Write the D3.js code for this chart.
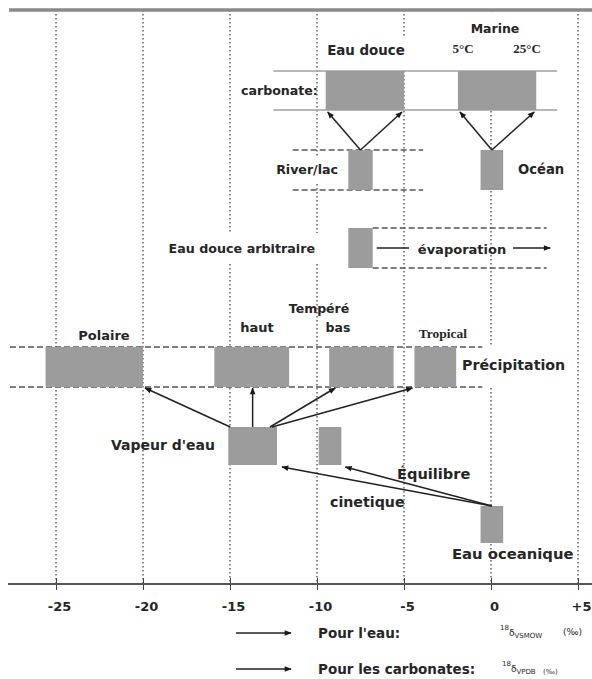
<html lang="fr">
<head>
<meta charset="utf-8">
<title>d18O eau et carbonates</title>
<style>
  body { margin: 0; background: white; }
  svg text { font-family: "DejaVu Sans", Arial, sans-serif; font-weight: bold; fill: #262626; }
  svg text.serif { font-family: "Liberation Serif", "Times New Roman", serif; }
  .box { fill: #9c9c9c; }
  .grid { stroke: #3a3a3a; stroke-width: 1.2; stroke-dasharray: 1.6,2.4; }
  .band { stroke: #555; stroke-width: 1.5; stroke-dasharray: 6,3; }
  .carb { stroke: #a0a0a0; stroke-width: 1.6; }
  .arrow { stroke: #222; stroke-width: 1.5; fill: none; }
</style>
</head>
<body>
<script src="https://cdnjs.cloudflare.com/ajax/libs/d3/7.8.5/d3.min.js"></script>
<script>
// axe d18O (permil)
var ticks = [-25, -20, -15, -10, -5, 0, 5];
var tickLabels = ["-25", "-20", "-15", "-10", "-5", "0", "+5"];

// carbonates (VPDB)
var carbonateNames = ["Eau douce", "Marine"];
var carbonateLo = [-9.5, -1.9];
var carbonateHi = [-5.0, 2.6];

// eaux sources (VSMOW)
var sourceNames = ["River/lac", "Océan"];
var sourceLo = [-8.2, -0.6];
var sourceHi = [-6.8, 0.7];

var arbitraire = [-8.2, -6.8];
var evaporationEnd = 3.4;

var precipNames = ["Polaire", "haut", "bas", "Tropical"];
var precipLo = [-25.6, -15.9, -9.3, -4.4];
var precipHi = [-20.0, -11.6, -5.6, -2.0];

var vapeur = [-15.1, -12.3];
var vapeurEquilibre = [-9.9, -8.6];
var eauOceanique = [-0.6, 0.7];

// mise en page (pixels)
var W = 592, H = 679;
var row = {
  top: 10, bottom: 584,
  carbTop: 71, carbBottom: 110,
  srcTop: 150, srcBottom: 190,
  arbTop: 228, arbBottom: 268,
  precTop: 347, precBottom: 387,
  vapTop: 427, vapBottom: 465,
  oceTop: 506, oceBottom: 543
};
var gridGaps = [
  {v: -15, y0: 233, y1: 264},
  {v: -10, y0: 233, y1: 264},
  {v: -10, y0: 156, y1: 184},
  {v: -5, y0: 36, y1: 71},
  {v: 0, y0: 14, y1: 71},
  {v: 0, y0: 347, y1: 388}
];

var x = d3.scaleLinear().domain([-25, 5]).range([56, 578]);
function mid(a, b) { return (a + b) / 2; }

var svg = d3.select("body").append("svg")
    .attr("width", W).attr("height", H);

var defs = svg.append("defs");
defs.append("marker").attr("id", "head")
    .attr("viewBox", "0 -5 10 10").attr("refX", 9).attr("refY", 0)
    .attr("markerUnits", "userSpaceOnUse")
    .attr("markerWidth", 8).attr("markerHeight", 7)
    .attr("orient", "auto")
  .append("path").attr("d", "M0,-4L10,0L0,4Z").attr("fill", "#1a1a1a");

// lignes verticales pointillees (avec trous derriere les textes)
ticks.forEach(function(v) {
  var gaps = gridGaps.filter(function(g) { return g.v === v; })
                     .sort(function(a, b) { return a.y0 - b.y0; });
  var y = row.top;
  gaps.forEach(function(g) {
    svg.append("line").attr("class", "grid")
       .attr("x1", x(v)).attr("x2", x(v)).attr("y1", y).attr("y2", g.y0);
    y = g.y1;
  });
  svg.append("line").attr("class", "grid")
     .attr("x1", x(v)).attr("x2", x(v)).attr("y1", y).attr("y2", row.bottom);
});

// bandes
function hline(cls, a, b, y) {
  svg.append("line").attr("class", cls)
     .attr("x1", a).attr("x2", b).attr("y1", y).attr("y2", y);
}
hline("carb", x(-12.5), x(3.8), row.carbTop);
hline("carb", x(-12.5), x(3.8), row.carbBottom);
hline("band", x(-11.4), x(-3.9), row.srcTop);
hline("band", x(-11.4), x(-3.9), row.srcBottom);
hline("band", x(arbitraire[1]), x(3.2), row.arbTop);
hline("band", x(arbitraire[1]), x(3.2), row.arbBottom);
hline("band", 10, x(-0.5), row.precTop);
hline("band", 10, x(-0.5), row.precBottom);

// boites
function boxes(lo, hi, y0, y1) {
  svg.append("g").selectAll("rect")
     .data(lo).enter().append("rect").attr("class", "box")
     .attr("x", function(d) { return x(d); })
     .attr("width", function(d, i) { return x(hi[i]) - x(d); })
     .attr("y", y0).attr("height", y1 - y0);
}
boxes(carbonateLo, carbonateHi, row.carbTop, row.carbBottom);
boxes(sourceLo, sourceHi, row.srcTop, row.srcBottom);
boxes([arbitraire[0]], [arbitraire[1]], row.arbTop, row.arbBottom);
boxes(precipLo, precipHi, row.precTop, row.precBottom);
boxes([vapeur[0]], [vapeur[1]], row.vapTop, row.vapBottom);
boxes([vapeurEquilibre[0]], [vapeurEquilibre[1]], row.vapTop, row.vapBottom);
boxes([eauOceanique[0]], [eauOceanique[1]], row.oceTop, row.oceBottom);

// fleches
var arrows = [];
sourceLo.forEach(function(lo, i) {
  var sx = x(mid(lo, sourceHi[i]));
  arrows.push([sx, row.srcTop, x(carbonateLo[i]) + 2, row.carbBottom + 2]);
  arrows.push([sx, row.srcTop, x(carbonateHi[i]) - 2, row.carbBottom + 2]);
});
var vmid = x(mid(vapeur[0], vapeur[1]));
arrows.push([x(vapeur[0]) + 2, row.vapTop, x(precipHi[0]) + 2, row.precBottom + 1]);
arrows.push([vmid, row.vapTop, vmid, row.precBottom + 1]);
arrows.push([x(vapeur[1]) - 7, row.vapTop, x(precipLo[2]) + 6, row.precBottom + 1]);
arrows.push([x(vapeur[1]) - 5, row.vapTop, x(precipLo[3]) - 2, row.precBottom + 1]);
var ox = x(mid(eauOceanique[0], eauOceanique[1]));
arrows.push([ox, row.oceTop, x(vapeurEquilibre[1]) + 4, row.vapBottom + 2]);
arrows.push([ox, row.oceTop, x(vapeur[1]) + 5, row.vapBottom + 2]);

svg.append("g").selectAll("line")
   .data(arrows).enter().append("line").attr("class", "arrow")
   .attr("x1", function(d) { return d[0]; }).attr("y1", function(d) { return d[1]; })
   .attr("x2", function(d) { return d[2]; }).attr("y2", function(d) { return d[3]; })
   .attr("marker-end", "url(#head)");

// evaporation
var ey = mid(row.arbTop, row.arbBottom);
svg.append("line").attr("class", "arrow")
   .attr("x1", x(arbitraire[1]) + 4).attr("x2", 409).attr("y1", ey).attr("y2", ey);
svg.append("line").attr("class", "arrow")
   .attr("x1", 513).attr("x2", x(evaporationEnd)).attr("y1", ey).attr("y2", ey)
   .attr("marker-end", "url(#head)");

// textes
var labels = [
  {t: "Marine", x: 495, y: 28, size: 12.5},
  {t: "5°C", x: 463, y: 48, size: 13, serif: true},
  {t: "25°C", x: 527, y: 48, size: 13, serif: true},
  {t: "Eau douce", x: 366, y: 50, size: 13.4},
  {t: "carbonate:", x: 241, y: 90, size: 12.6, anchor: "start"},
  {t: "River/lac", x: 338, y: 169, size: 12.6, anchor: "end"},
  {t: "Océan", x: 518, y: 169, size: 13.2, anchor: "start"},
  {t: "Eau douce arbitraire", x: 315, y: 248, size: 12.7, anchor: "end"},
  {t: "évaporation", x: 462, y: 249, size: 13},
  {t: "Polaire", x: 104, y: 335, size: 13},
  {t: "haut", x: 257, y: 327, size: 13},
  {t: "Tempéré", x: 319, y: 308, size: 12.5},
  {t: "bas", x: 338, y: 327, size: 12.5},
  {t: "Tropical", x: 443, y: 333, size: 13.5, serif: true},
  {t: "Précipitation", x: 462, y: 365, size: 14.2, anchor: "start"},
  {t: "Vapeur d'eau", x: 215, y: 445, size: 14, anchor: "end"},
  {t: "Équilibre", x: 397, y: 473, size: 14.6, anchor: "start"},
  {t: "cinetique", x: 330, y: 502, size: 14.2, anchor: "start"},
  {t: "Eau oceanique", x: 452, y: 553, size: 14.8, anchor: "start"},
  {t: "Pour l'eau:", x: 318, y: 633, size: 13.5, anchor: "start"},
  {t: "Pour les carbonates:", x: 318, y: 669, size: 13.5, anchor: "start"}
];
svg.append("g").selectAll("text")
   .data(labels).enter().append("text")
   .attr("class", function(d) { return d.serif ? "serif" : null; })
   .attr("x", function(d) { return d.x; })
   .attr("y", function(d) { return d.y; })
   .attr("dominant-baseline", "central")
   .attr("text-anchor", function(d) { return d.anchor || "middle"; })
   .style("font-size", function(d) { return d.size + "px"; })
   .text(function(d) { return d.t; });

// legende
var legend = [
  {y: 633, x: 500, sub: "VSMOW", unitX: 563},
  {y: 669, x: 502, sub: "VPDB", unitX: 543}
];
legend.forEach(function(l) {
  svg.append("line").attr("class", "arrow")
     .attr("x1", 236).attr("x2", 291).attr("y1", l.y).attr("y2", l.y)
     .attr("marker-end", "url(#head)");
  var t = svg.append("text").attr("x", l.x).attr("y", l.y + 3)
     .style("font-size", "7px").style("font-weight", "normal");
  t.append("tspan").attr("dy", -6).text("18");
  t.append("tspan").attr("dy", 6).style("font-size", "9px").text("δ");
  t.append("tspan").attr("dy", 2).text(l.sub);
  svg.append("text").attr("x", l.unitX).attr("y", l.y + (l.sub === "VPDB" ? 5 : 2))
     .style("font-size", l.sub === "VPDB" ? "7px" : "9px").style("font-weight", "normal")
     .text("(‰)");
});

// axes
svg.append("line").attr("x1", 9).attr("x2", W).attr("y1", row.top).attr("y2", row.top)
   .attr("stroke", "#8a8a8a").attr("stroke-width", 3.5);

var xAxis = d3.axisBottom(x)
    .tickValues(ticks)
    .tickFormat(function(d, i) { return tickLabels[i]; })
    .tickSizeInner(6).tickSizeOuter(0).tickPadding(12);
var gx = svg.append("g").attr("transform", "translate(0," + row.bottom + ")").call(xAxis);
gx.select(".domain").remove();
gx.selectAll(".tick line").attr("y1", -6).attr("stroke", "#444");
gx.selectAll(".tick text").style("font-size", "13px").attr("fill", "#262626")
   .attr("dx", 3)
   .style("font-family", "DejaVu Sans, Arial, sans-serif").style("font-weight", "bold");
svg.append("line").attr("x1", 8).attr("x2", W).attr("y1", row.bottom).attr("y2", row.bottom)
   .attr("stroke", "#555").attr("stroke-width", 2);
</script>
</body>
</html>
